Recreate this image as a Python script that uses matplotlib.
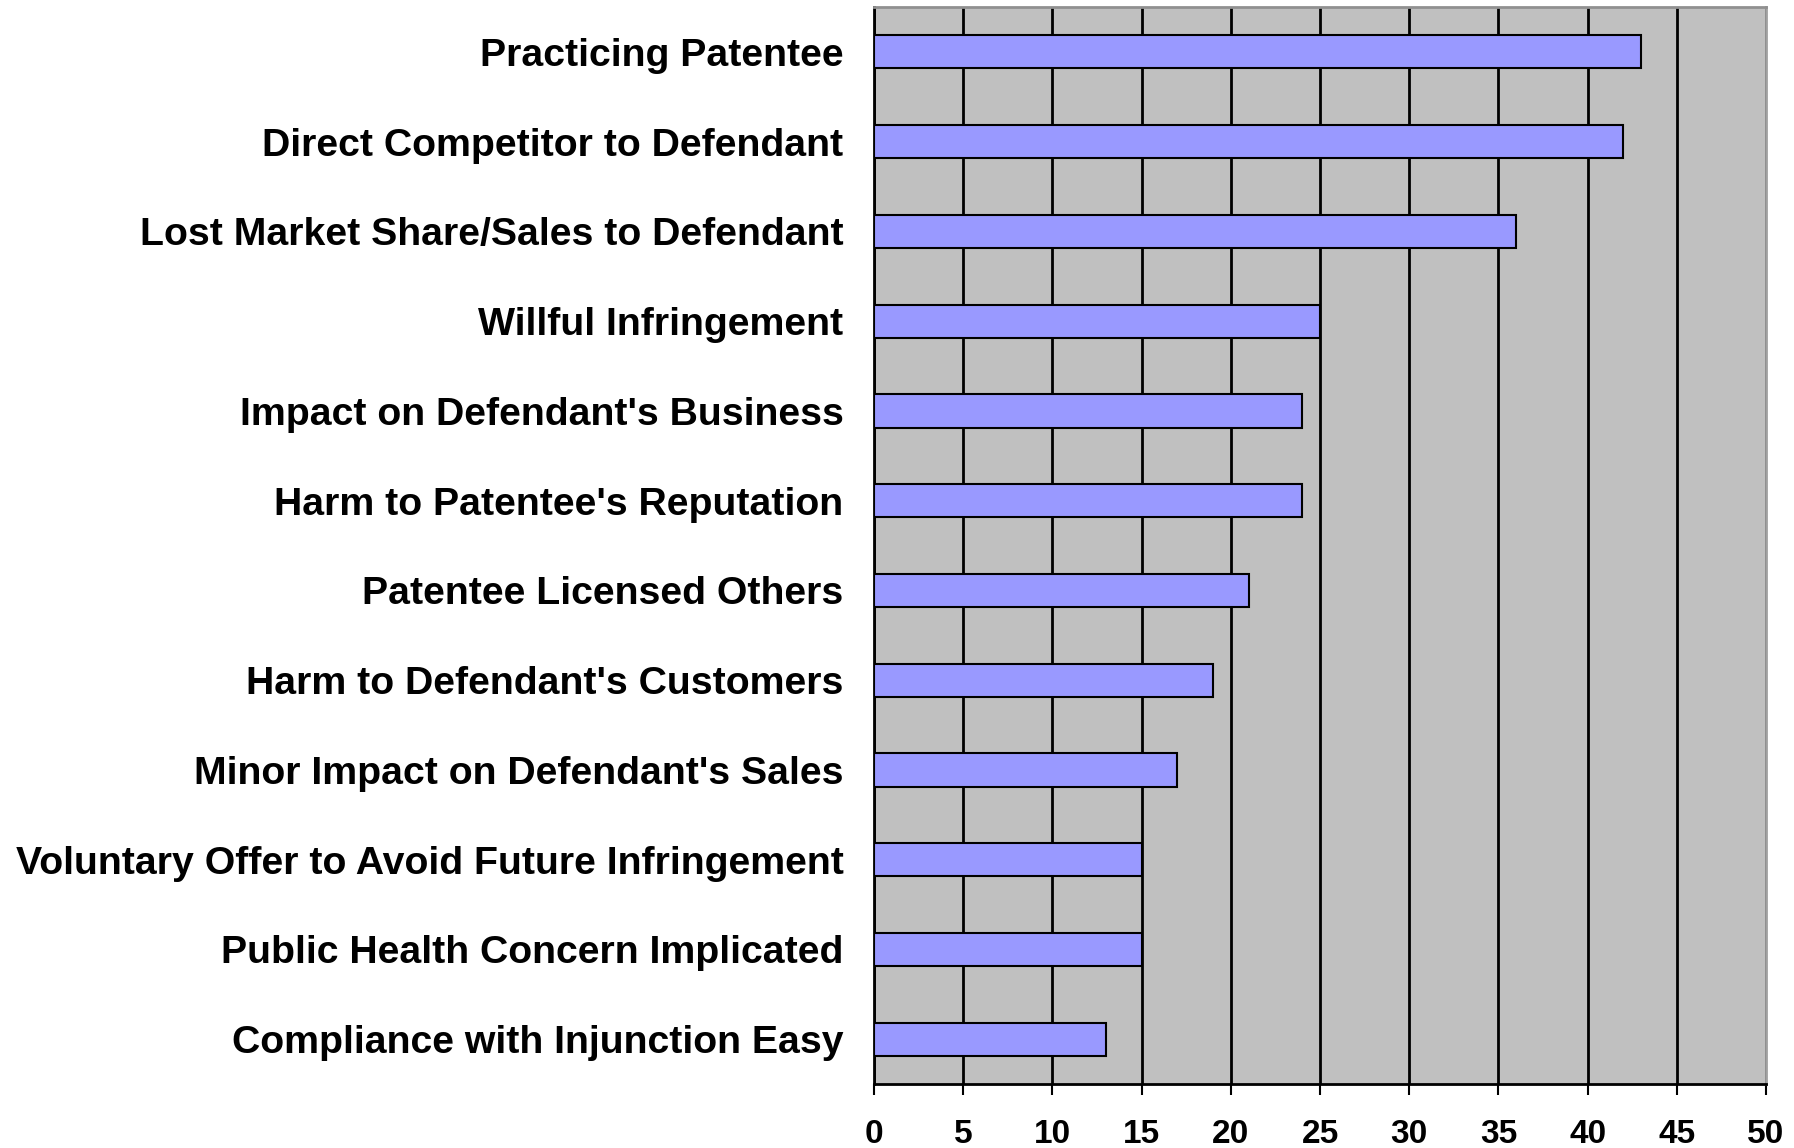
import matplotlib.pyplot as plt

# Data (top to bottom)
categories = [
    "Practicing Patentee",
    "Direct Competitor to Defendant",
    "Lost Market Share/Sales to Defendant",
    "Willful Infringement",
    "Impact on Defendant's Business",
    "Harm to Patentee's Reputation",
    "Patentee Licensed Others",
    "Harm to Defendant's Customers",
    "Minor Impact on Defendant's Sales",
    "Voluntary Offer to Avoid Future Infringement",
    "Public Health Concern Implicated",
    "Compliance with Injunction Easy",
]
values = [43, 42, 36, 25, 24, 24, 21, 19, 17, 15, 15, 13]
xticks = [0, 5, 10, 15, 20, 25, 30, 35, 40, 45, 50]

plt.rcParams['font.family'] = ['Liberation Sans', 'DejaVu Sans']
plt.rcParams['font.weight'] = 'bold'

fig = plt.figure(figsize=(17.94, 11.48), dpi=100)
ax = fig.add_axes([0.4872, 0.0557, 0.4972, 0.9382])
ax.set_facecolor('#C0C0C0')

pos = list(range(len(categories)))
ax.barh(pos, values, height=0.37, color='#9999FF', edgecolor='black', linewidth=1.5, zorder=3)

ax.set_xlim(0, 50)
ax.set_ylim(len(categories) - 0.5, -0.5)
ax.set_xticks(xticks)
ax.set_xticklabels([str(t) for t in xticks], fontsize=24, fontweight='bold')
ax.set_yticks(pos)
ax.set_yticklabels(categories, fontsize=28.3, fontweight='bold')

ax.tick_params(axis='y', length=0, pad=22)
ax.tick_params(axis='x', direction='out', length=8, width=1.5, pad=17)

ax.xaxis.grid(True, color='black', linewidth=2)
ax.set_axisbelow(True)
for t in ax.xaxis.get_gridlines():
    t.set_zorder(1)

ax.spines['left'].set_color('black')
ax.spines['left'].set_linewidth(2)
ax.spines['bottom'].set_color('black')
ax.spines['bottom'].set_linewidth(2)
ax.spines['top'].set_color('#909090')
ax.spines['top'].set_linewidth(2)
ax.spines['right'].set_color('#A0A0A0')
ax.spines['right'].set_linewidth(2)

fig.savefig('out.png', dpi=100)
